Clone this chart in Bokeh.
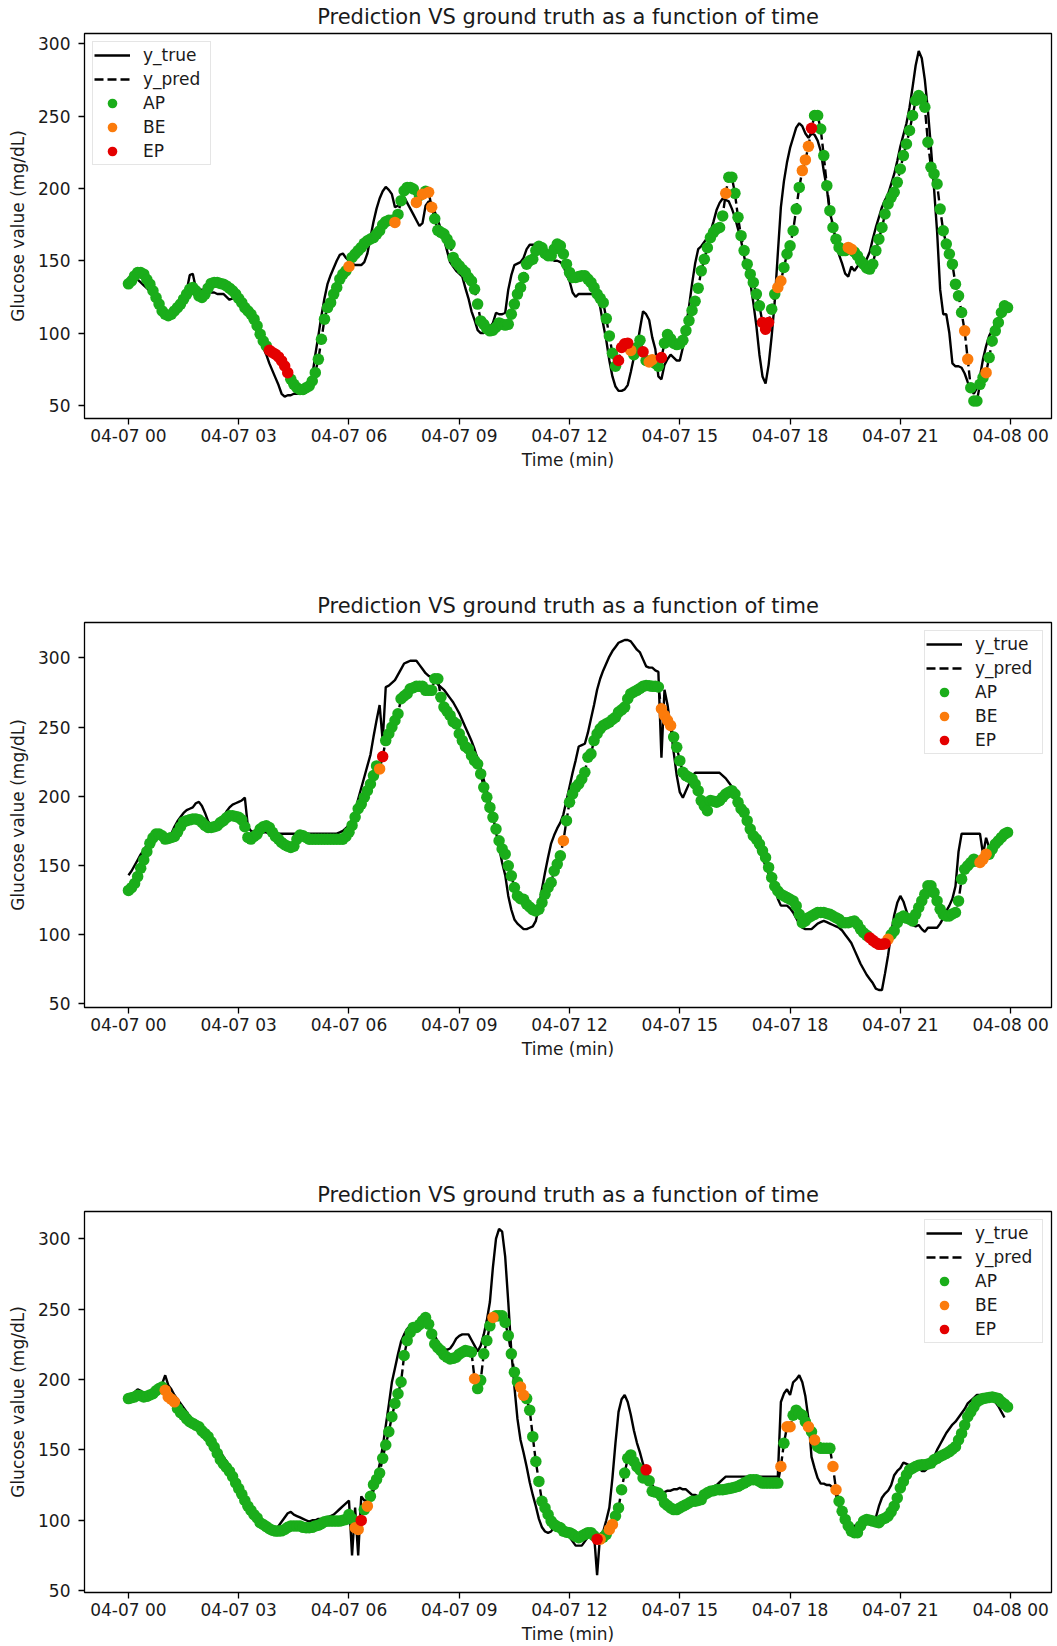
import numpy as np
from bokeh.plotting import figure
from bokeh.layouts import column
from bokeh.models import Range1d, FixedTicker, Legend, LegendItem, Title
from bokeh.embed import file_html
from bokeh.resources import INLINE

# CGM samples every 5 minutes, 04-07 00:00 onwards (x axis in hours)
STEP_MIN = 5
tick_hours = [0, 3, 6, 9, 12, 15, 18, 21, 24]
tick_labels = ["04-07 00", "04-07 03", "04-07 06", "04-07 09", "04-07 12",
               "04-07 15", "04-07 18", "04-07 21", "04-08 00"]
y_ticks = [50, 100, 150, 200, 250, 300]
TITLE = "Prediction VS ground truth as a function of time"

# ---------------- day 1 ----------------
true_1 = [
    139, 138, 138, 137, 135, 133, 131, 129, 127, 124, 122, 117,
    111, 110, 111, 114, 117, 120, 124, 129, 140, 141, 131, 129,
    130, 130, 129, 128, 128, 127, 127, 127, 125, 123, 124, 124,
    123, 121, 117, 113, 109, 105, 101, 96, 90, 85, 79, 74,
    69, 64, 58, 56, 57, 57, 58, 58, 58, 58, 59, 63,
    70, 85, 98, 112, 124, 134, 140, 145, 150, 154, 155, 152,
    150, 148, 147, 147, 147, 149, 155, 166, 177, 186, 193, 198,
    201, 199, 196, 187, 188, 191, 194, 190, 186, 182, 178, 174,
    176, 188, 191, 190, 184, 178, 172, 165, 157, 149, 146, 143,
    141, 139, 131, 124, 115, 109, 102, 100, 100, 101, 104, 107,
    114, 113, 113, 114, 130, 140, 147, 148, 149, 152, 158, 161,
    161, 161, 160, 157, 154, 151, 151, 150, 150, 149, 147, 140,
    136, 128, 125, 127, 127, 127, 127, 127, 127, 126, 118, 106,
    95, 81, 70, 63, 60, 60, 61, 64, 73, 83, 90, 103,
    115, 113, 109, 97, 89, 70, 68, 78, 82, 85, 83, 81,
    81, 90, 104, 118, 134, 148, 158, 160, 163, 166, 170, 177,
    185, 190, 193, 192, 191, 186, 180, 172, 164, 153, 143, 135,
    121, 105, 85, 70, 65, 78, 98, 122, 155, 187, 205, 218,
    228, 235, 242, 245, 243, 238, 235, 238, 237, 233, 226, 212,
    200, 183, 175, 162, 154, 148, 141, 139, 146, 143, 146, 148,
    148, 151, 156, 165, 173, 180, 187, 192, 196, 203, 210, 219,
    229, 237, 245, 256, 270, 285, 295, 290, 275, 254, 228, 200,
    170, 130, 113, 113, 100, 79, 77, 77, 76, 72, 66, 61,
    58, 62, 70, 82, 91, 98, 102, 106, 110, 114, 118, 120,
]
pred_1 = [
    134, 136, 139.5, 141.8, 141.8, 140.7, 137, 133.8, 129.2, 124.6, 120, 115.3,
    113, 112, 113, 115.3, 117.6, 120, 123.4, 126.9, 130.3, 131.5, 129.2, 125.7,
    124.6, 126.9, 131, 134.3, 135, 135, 134.3, 133.8, 132.6, 131, 129.2, 126.9,
    123.9, 121, 117.6, 115.3, 113, 109.6, 105, 99.2, 94.5, 91.1, 88.1, 86.5,
    85.3, 83.5, 80.7, 77.2, 72.6, 68, 64.5, 62.2, 61, 61, 62.2, 63.4,
    66.8, 72.6, 81.8, 95.7, 109.6, 117.6, 121, 126.9, 131.5, 137.3, 140.7, 143,
    146, 152.3, 154.6, 157, 159.2, 162, 163.8, 165, 166, 168.4, 170.7, 174.9,
    177, 178, 178, 176.5, 182, 191.5, 198.4, 200.7, 200.7, 199.6, 190.3, 195,
    196, 198, 197.3, 187, 179, 171, 169.6, 168.4, 165, 161.5, 152.3, 148.8,
    146.5, 144, 142, 138.4, 136, 130.3, 120, 108.4, 106, 103, 101.5, 102,
    104, 107, 106, 105.5, 106, 113, 120, 126.9, 131.5, 138.4, 147.6, 150,
    151, 157, 160, 159, 155, 153.4, 153.4, 158, 161.5, 160.3, 154.6, 147.6,
    141.9, 138.4, 138.4, 139, 139.6, 139.6, 137.3, 135, 131.5, 127, 124, 121,
    110, 98, 86, 77, 81, 90, 92.5, 93, 88, 85, 90, 95,
    87, 81, 80, 81.6, 79, 77, 83, 93, 99, 96, 93, 92,
    92.5, 95, 101.7, 108.6, 115.6, 122, 131, 143, 151, 159, 166, 169.6,
    172, 173, 181, 196.6, 207.7, 207.7, 196.6, 180, 167.3, 157, 147.6, 140.7,
    135, 126.9, 118.8, 107.3, 102.6, 107.3, 116.5, 126.9, 131.5, 136, 145.3, 154.6,
    160.3, 170.7, 185.7, 200.7, 212.3, 219.7, 229.1, 241.6, 250.4, 250.4, 241.1, 222.7,
    201.9, 184.6, 173, 164.9, 159.2, 157, 157, 159.2, 158, 156, 153.4, 150,
    147.6, 145, 144.2, 147.6, 157, 164.9, 173, 182.3, 189.2, 193.8, 197.3, 204.2,
    213.4, 222.7, 230.7, 240, 250.4, 260.8, 264.2, 262, 256.1, 231.9, 214.6, 210,
    203, 185.7, 170.7, 161.5, 154.6, 147.6, 133.8, 125.7, 114.2, 101.5, 81.8, 62.2,
    53, 53, 64.5, 69.2, 72.6, 83, 94.5, 101.5, 107.3, 114.2, 118.8, 117.6,
]
ep_1 = [46, 47, 48, 49, 50, 51, 52, 160, 161, 162, 163, 168, 174, 207, 208, 209, 223]
be_1 = [72, 87, 94, 96, 98, 99, 164, 170, 171, 195, 212, 213, 220, 221, 222,
        235, 236, 273, 274, 280]

# ---------------- day 2 ----------------
true_2 = [
    143, 146, 150, 154, 158, 161, 165, 168, 170, 170, 170, 170,
    169, 171, 173, 178, 182, 185, 188, 190, 191, 192, 195, 196,
    193, 188, 182, 179, 178, 178, 180, 185, 189, 192, 194, 195,
    196, 197, 199, 178, 175, 174, 174, 174, 174, 174, 173, 173,
    173, 173, 173, 173, 173, 173, 173, 173, 173, 173, 173, 173,
    173, 173, 173, 173, 173, 173, 173, 173, 173, 174, 175, 177,
    179, 183, 189, 198, 206, 214, 222, 230, 243, 255, 266, 240,
    279, 280, 282, 284, 288, 292, 296, 297, 298, 298, 298, 295,
    292, 289, 287, 286, 284, 281, 279, 277, 274, 271, 268, 264,
    260, 255, 250, 245, 240, 234, 227, 220, 212, 204, 196, 186,
    174, 163, 152, 143, 128, 118, 111, 108, 106, 104, 104, 105,
    106, 110, 120, 133, 145, 156, 166, 172, 177, 181, 187, 197,
    207, 217, 226, 236, 237, 238, 246, 256, 266, 277, 285, 291,
    296, 301, 305, 308, 311, 312, 313, 313, 312, 309, 306, 304,
    299, 294, 293, 293, 291, 290, 228, 277, 266, 250, 232, 215,
    203, 199, 204, 209, 215, 217, 217, 217, 217, 217, 217, 217,
    217, 217, 215, 213, 210, 207, 203, 198, 192, 186, 181, 175,
    169, 164, 160, 155, 150, 144, 139, 134, 126, 121, 121, 121,
    119, 116, 112, 108, 105, 104, 104, 104, 106, 108, 109, 110,
    109, 108, 107, 106, 105, 103, 100, 97, 94, 89, 84, 79,
    75, 71, 68, 65, 61, 60, 60, 72, 85, 101, 114, 123,
    128, 124, 117, 110, 107, 106, 107, 104, 102, 105, 105, 105,
    105, 108, 112, 117, 121, 126, 135, 160, 173, 173, 173, 173,
    173, 173, 173, 158, 170, 163, 164, 166, 168, 170, 172, 174,
]
pred_2 = [
    132, 134, 137, 142, 148, 154, 160, 166, 170, 172.7, 172.7, 171.5,
    169.1, 169.5, 170.3, 171, 174, 178, 181.5, 182.4, 183, 183.6, 183.6, 183,
    181.2, 179, 177.5, 177.5, 178, 178.7, 181, 182.4, 184.5, 186, 186, 185.5,
    184.8, 183, 178, 170.3, 169.1, 171, 172.7, 176.3, 178, 178.7, 177.5, 174,
    171, 169, 166.7, 165, 164, 163, 164, 169, 172, 171.5, 170.3, 169,
    169, 169, 169, 169, 169, 169, 169, 169, 169, 169, 169, 171,
    174, 179, 185, 191, 194.4, 199.3, 204.1, 208.9, 215, 222, 219.8, 228.7,
    240.3, 245.2, 250, 254.8, 259.7, 270.5, 272.5, 274.2, 277.8, 278.5, 279.5, 279.5,
    279.5, 276.6, 276.6, 276.6, 285, 285, 271.7, 264.5, 261.5, 258.5, 254, 252.4,
    245.2, 240.3, 236, 234.3, 229.5, 225.8, 223.4, 216.2, 206.5, 199.3, 192, 184.8,
    176.3, 167.9, 162, 158.2, 149.8, 142.5, 134.1, 128, 126, 125.6, 122, 120,
    118, 117.1, 118.4, 123.2, 129.2, 134.1, 137.7, 146.1, 151, 157, 167.9, 182.4,
    195.7, 201.7, 206.5, 208.9, 212.6, 217.4, 228.3, 230.7, 240.3, 245.2, 248.8, 251.2,
    252.4, 253.6, 255.5, 257.2, 260.9, 262.5, 264.5, 270.5, 274.2, 275.5, 276.6, 278,
    279.5, 280.2, 280, 279.5, 279.5, 279, 263.3, 258.5, 254.8, 251.2, 242.8, 235.5,
    225.8, 217.4, 215, 213.8, 212.6, 208.9, 204.1, 196.9, 193, 189.6, 196.9, 196.5,
    195.7, 196.9, 199.3, 201.7, 203, 204.1, 201.7, 195.7, 191, 188.4, 182.4, 176.3,
    171.5, 169.1, 165.5, 160.6, 155.8, 148.6, 141.3, 135, 131.6, 129.2, 128, 126.8,
    125.6, 124.4, 120.8, 114.7, 108.7, 110, 112.3, 113.5, 114.7, 116, 116, 116,
    115.3, 114.7, 113.5, 112.3, 111.1, 108.7, 108.7, 108.7, 109.3, 109.9, 107.5, 103.9,
    101.4, 99.5, 97.8, 95.9, 94.2, 93, 93, 93.5, 96.6, 100, 102.7, 108.7,
    112.3, 113.5, 112, 111.1, 109.9, 114.7, 119.6, 124.4, 129.2, 135.3, 135.3, 130.4,
    124.4, 118.4, 114.7, 113.5, 113.5, 115, 116, 124.4, 140.1, 147.3, 149.8, 152.2,
    154.6, 153, 152.2, 154.6, 158.2, 158.2, 161.8, 165.5, 167.9, 170.3, 172.7, 173.9,
]
ep_2 = [83, 242, 243, 244, 245, 246, 247]
be_2 = [82, 142, 174, 175, 176, 177, 248, 278, 279, 280]

# ---------------- day 3 ----------------
true_3 = [
    186, 188, 191, 193, 192, 190, 189, 190, 191, 194, 196, 197,
    203, 196, 193, 189, 186, 183, 180, 177, 174, 171, 169, 167,
    165, 163, 161, 158, 155, 152, 149, 145, 142, 138, 135, 131,
    127, 122, 117, 111, 105, 103, 101, 100, 98, 96, 94, 93,
    93, 96, 99, 102, 105, 106, 104, 103, 102, 101, 100, 99,
    100, 100, 101, 101, 101, 102, 103, 104, 106, 108, 110, 112,
    114, 75, 109, 75, 117, 114, 114, 116, 121, 129, 140, 152,
    167, 182, 198, 208, 218, 227, 232, 236, 238, 238, 238, 239,
    241, 240, 238, 235, 231, 227, 224, 222, 221, 222, 225, 229,
    231, 232, 232, 232, 228, 224, 220, 224, 232, 242, 255, 280,
    300, 307, 305, 287, 255, 220, 195, 172, 157, 148, 138, 127,
    118, 110, 101, 95, 92, 91, 92, 96, 97, 98, 96, 92,
    88, 85, 82, 82, 82, 85, 88, 89, 90, 61, 90, 92,
    100, 109, 130, 155, 177, 186, 189, 184, 175, 164, 155, 148,
    140, 134, 129, 125, 122, 120, 120, 120, 121, 121, 122, 122,
    123, 122, 122, 120, 118, 118, 117, 117, 119, 121, 122, 124,
    125, 127, 129, 131, 131, 131, 131, 131, 131, 131, 131, 131,
    131, 131, 131, 131, 131, 131, 131, 131, 131, 184, 190, 193,
    189, 198, 200, 203, 198, 188, 172, 145, 137, 130, 126, 126,
    125, 125, 123, 118, 110, 104, 99, 96, 96, 96, 97, 99,
    99, 99, 99, 100, 102, 110, 116, 119, 121, 125, 132, 135,
    137, 141, 140, 139, 139, 139, 138, 135, 135, 137, 141, 145,
    150, 154, 158, 162, 165, 168, 170, 173, 176, 179, 183, 185,
    187, 189, 189, 189, 189, 188, 186, 184, 181, 177, 173,
]
pred_3 = [
    186.4, 187, 187.6, 188.8, 188.5, 187.6, 188, 189, 189.9, 192, 193.5, 194.6,
    192.3, 187.6, 186, 184.1, 179.4, 176.5, 174.6, 172, 170, 168.8, 167.5, 166.4,
    163.5, 161.5, 159.4, 155.8, 152, 147.5, 143, 140, 137.5, 134.7, 131, 126.5,
    122.5, 118.5, 114, 110, 107, 104, 101.7, 98.2, 97, 95.5, 94, 93,
    92.3, 92.3, 92.5, 93.5, 95, 95.9, 95.9, 95.9, 95.9, 95, 94.7, 94.7,
    95, 95.9, 96.5, 97.5, 99, 99.4, 99.4, 99.4, 99.4, 99.4, 100, 100.6,
    104.1, 101, 94.7, 93.5, 99.9, 107.6, 110, 117, 125.3, 129, 133.5, 144,
    153.5, 162.9, 173.5, 182.9, 189.9, 198.2, 217, 227.6, 233.4, 237, 237, 239,
    241.7, 244, 239.3, 232.3, 225.2, 222.5, 220.5, 217.5, 215.8, 214.6, 215, 215.8,
    218, 219.3, 220.5, 220, 219.3, 200.5, 193.5, 199.4, 218.2, 227.6, 238.1, 244,
    245.2, 245.2, 245.2, 240.5, 231.1, 218.2, 205.2, 198.2, 194.6, 188.8, 186.4, 178.2,
    159.4, 141.7, 127.6, 113.5, 108.8, 104.1, 99.4, 97, 95.5, 94.7, 92.3, 91.5,
    91.2, 90, 88.5, 87.6, 88.8, 90, 91.2, 91.2, 89, 86.5, 86.5, 88,
    90, 93.5, 97, 103, 108.8, 121.7, 133.5, 144, 146.4, 141.7, 138, 135.8,
    130, 135.8, 128, 120.6, 120, 119.4, 117, 112.3, 110.5, 108.8, 107.6, 107.6,
    108.8, 110, 111.1, 112.3, 113.5, 113.5, 114, 114.7, 118.2, 119.5, 120.6, 121,
    121.7, 121.7, 121.7, 122, 122.5, 122.9, 123.5, 124.1, 125.3, 126.4, 127.5, 128.8,
    128.8, 128.8, 127.5, 126.4, 126.4, 126.4, 126.4, 126.4, 126.4, 138.2, 154.7, 166.4,
    166.4, 174.6, 178.2, 176, 174.6, 170, 166.4, 162.9, 157, 152.3, 151.1, 151.1,
    151.1, 151.1, 138.2, 121.7, 113.5, 106.4, 100.6, 95.9, 92.3, 91.2, 91.2, 96,
    99.4, 100.6, 100, 99.4, 98.8, 98.2, 100.6, 101.5, 102.9, 106, 110, 115.9,
    122.9, 127.6, 132.3, 135.8, 137, 138.2, 139, 139.4, 139.4, 140, 140.6, 142.9,
    144, 145.3, 146.4, 147.5, 148.8, 150.5, 152.3, 157, 161.7, 167.6, 173.5, 177,
    180.5, 184.1, 185.5, 186.4, 186.9, 187.2, 187.6, 187, 186.4, 184.1, 182.5, 180.5,
]
ep_3 = [76, 153, 169]
be_3 = [12, 13, 14, 15, 74, 75, 78, 113, 119, 128, 129, 154, 157, 158,
        213, 215, 216, 222, 224, 230, 231]

CLASS_COLORS = {"AP": "#1aad1a", "BE": "#fb7b0b", "EP": "#e40000"}
FONT = "DejaVu Sans"
TEXT = "#1a1a1a"


def hours(n):
    return np.arange(n) * STEP_MIN / 60.0


def padded(lo, hi, frac=0.05):
    span = hi - lo
    return lo - frac * span, hi + frac * span


def panel(y_true, y_pred, be_idx, ep_idx, legend_corner, height, bottom):
    t_true = hours(len(y_true))
    t_pred = hours(len(y_pred))
    cls = np.array(["AP"] * len(y_pred), dtype=object)
    cls[be_idx] = "BE"
    cls[ep_idx] = "EP"
    yp = np.asarray(y_pred, dtype=float)

    x0, x1 = padded(0.0, max(t_true[-1], t_pred[-1]))
    y0, y1 = padded(min(min(y_true), yp.min()), max(max(y_true), yp.max()))

    p = figure(width=1057, height=height, output_backend="svg", toolbar_location=None,
               x_range=Range1d(x0, x1), y_range=Range1d(y0, y1),
               min_border_left=84, min_border_right=6, min_border_top=33,
               min_border_bottom=bottom, title=TITLE)
    p.background_fill_color = "white"
    p.border_fill_color = "white"
    p.grid.visible = False
    p.outline_line_color = "black"
    p.outline_line_width = 1.3
    p.outline_line_alpha = 1.0

    p.title.text_font = FONT
    p.title.text_font_size = "21px"
    p.title.text_font_style = "normal"
    p.title.text_color = TEXT
    p.title.align = "center"
    p.title.standoff = 0
    # thin gap between the frame and the title line
    p.add_layout(Title(text=" ", text_font_size="1px", standoff=2), "above")

    p.xaxis.ticker = FixedTicker(ticks=tick_hours)
    p.xaxis.major_label_overrides = dict(zip(tick_hours, tick_labels))
    p.yaxis.ticker = FixedTicker(ticks=y_ticks)
    p.xaxis.axis_label = "Time (min)"
    p.yaxis.axis_label = "Glucose value (mg/dL)"
    for ax in (p.xaxis, p.yaxis):
        ax.axis_line_color = None
        ax.minor_tick_line_color = None
        ax.major_tick_line_color = "black"
        ax.major_tick_line_width = 1.3
        ax.major_tick_out = 6
        ax.major_tick_in = 0
        ax.major_label_text_font = FONT
        ax.major_label_text_font_size = "17px"
        ax.major_label_text_color = TEXT
        ax.axis_label_text_font = FONT
        ax.axis_label_text_font_size = "17px"
        ax.axis_label_text_font_style = "normal"
        ax.axis_label_text_color = TEXT
    p.xaxis.major_label_standoff = 1
    p.xaxis.axis_label_standoff = 1
    p.yaxis.major_label_standoff = 8
    p.yaxis.axis_label_standoff = 7

    r_true = p.line(t_true, y_true, line_color="black", line_width=2.4)
    r_pred = p.line(t_pred, yp, line_color="black", line_width=2.4, line_dash="9 4")
    dots = {}
    for name in ("AP", "BE", "EP"):
        m = cls == name
        dots[name] = p.scatter(t_pred[m], yp[m], size=11.5, fill_color=CLASS_COLORS[name],
                               line_color=None)

    legend = Legend(items=[
        LegendItem(label="y_true", renderers=[r_true]),
        LegendItem(label="y_pred", renderers=[r_pred]),
        LegendItem(label="AP", renderers=[dots["AP"]]),
        LegendItem(label="BE", renderers=[dots["BE"]]),
        LegendItem(label="EP", renderers=[dots["EP"]]),
    ], location=legend_corner)
    legend.label_text_font = FONT
    legend.label_text_font_size = "17px"
    legend.label_text_color = TEXT
    legend.glyph_width = 36
    legend.glyph_height = 24
    legend.label_height = 24
    legend.label_width = 66
    legend.label_standoff = 13
    legend.spacing = 0
    legend.padding = 1
    legend.margin = 8
    legend.border_line_color = "#cccccc"
    legend.border_line_width = 1.3
    legend.background_fill_color = "white"
    legend.background_fill_alpha = 0.8
    p.add_layout(legend)
    return p


p1 = panel(true_1, pred_1, be_1, ep_1, "top_left", 589, 171)
p2 = panel(true_2, pred_2, be_2, ep_2, "top_right", 589, 171)
p3 = panel(true_3, pred_3, be_3, ep_3, "top_right", 468, 50)

layout = column(p1, p2, p3)
open("out.html", "w").write(file_html(layout, INLINE))
